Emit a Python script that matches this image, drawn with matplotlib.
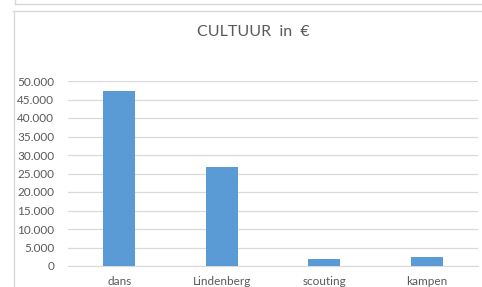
import matplotlib.pyplot as plt
from matplotlib.lines import Line2D
from matplotlib.ticker import FuncFormatter

categories = ["dans", "Lindenberg", "scouting", "kampen"]
values = [47400, 26700, 1900, 2400]
y_ticks = list(range(0, 50001, 5000))

W, H = 482, 287
fig = plt.figure(figsize=(W / 100, H / 100), dpi=100)
plt.rcParams["font.family"] = ["Lato", "DejaVu Sans"]


def px(x, y):
    # pixel coords (top-left origin) -> figure fraction
    return x / W, 1 - y / H


# frame of the sheet box above and the chart border
border = "#d9d9d9"
fig.add_artist(Line2D([15 / W, 1], [1 - 4 / H] * 2, color=border, lw=1))
fig.add_artist(Line2D([15 / W] * 2, [1 - 4 / H, 1], color=border, lw=1))
fig.add_artist(Line2D([13 / W, 1], [1 - 10.5 / H] * 2, color=border, lw=1))
fig.add_artist(Line2D([13.5 / W] * 2, [0, 1 - 10.5 / H], color=border, lw=1))

left, top = px(68, 81)
right, bottom = px(478, 266)
ax = fig.add_axes([left, bottom, right - left, top - bottom])

x = range(len(categories))
ax.bar(x, values, width=0.31, color="#5b9bd5", zorder=3)
ax.set_xlim(-0.5, len(categories) - 0.5)
ax.set_ylim(0, 50000)
ax.set_yticks(y_ticks)
ax.yaxis.set_major_formatter(FuncFormatter(lambda v, p: f"{int(v):,}".replace(",", ".")))
ax.set_xticks(list(x))
ax.set_xticklabels(categories)
ax.grid(axis="y", color=border, lw=0.9, zorder=0)
for s in ["top", "right", "left"]:
    ax.spines[s].set_visible(False)
ax.spines["bottom"].set_color(border)
ax.tick_params(axis="both", length=0, colors="#595959", labelsize=8.5)
ax.tick_params(axis="y", pad=10)
ax.tick_params(axis="x", pad=7.5)

tx, ty = px(253, 32)
fig.text(tx, ty, "CULTUUR  in  €", ha="center", va="center", fontsize=11.5, color="#595959")

fig.savefig("out.png", dpi=100)
